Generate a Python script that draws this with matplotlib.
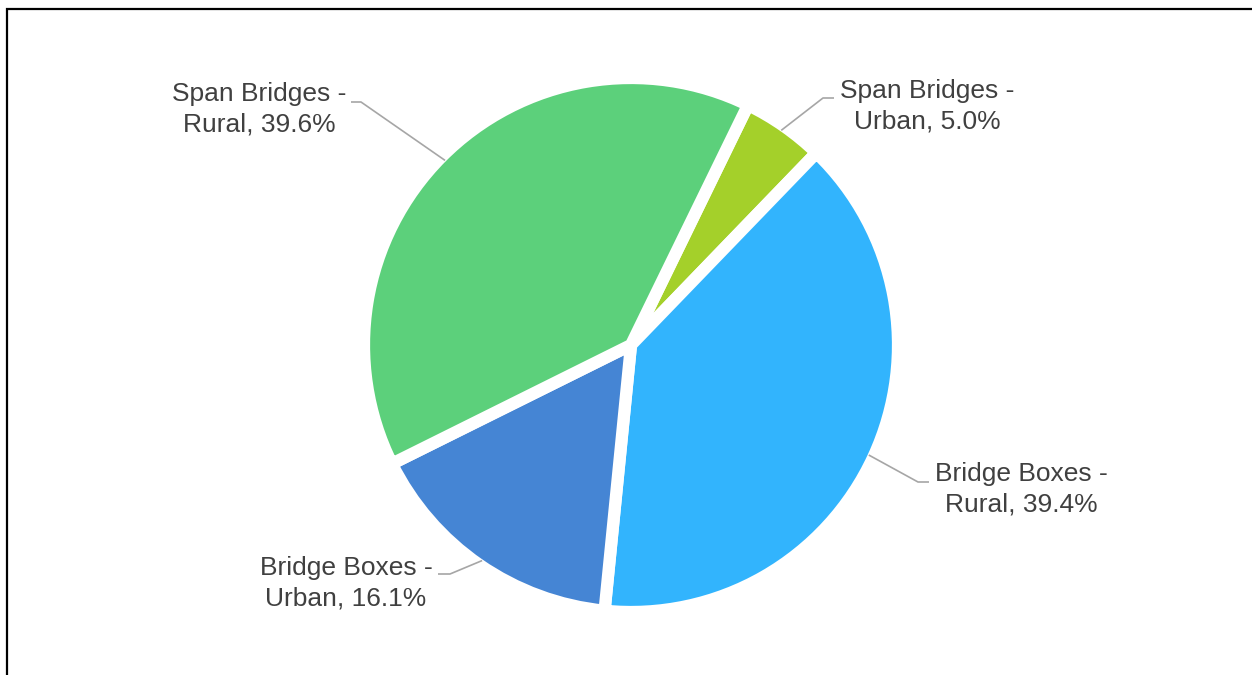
import matplotlib
matplotlib.use("Agg")
import matplotlib.pyplot as plt
import numpy as np

# Share of bridges by type and setting
categories = ["Span Bridges - Urban", "Bridge Boxes - Rural",
              "Bridge Boxes - Urban", "Span Bridges - Rural"]
shares = [5.0, 39.4, 16.1, 39.6]
label_lines = [("Span Bridges -", "Urban, 5.0%"),
               ("Bridge Boxes -", "Rural, 39.4%"),
               ("Bridge Boxes -", "Urban, 16.1%"),
               ("Span Bridges -", "Rural, 39.6%")]
colors = ["#a4d02a", "#32b4fd", "#4585d4", "#5cd07b"]

W, H = 1252, 675
fig = plt.figure(figsize=(W / 100, H / 100), dpi=100)
ax = fig.add_axes([0, 0, 1, 1])


def py(y):
    """Convert a top-down pixel row to the axes' bottom-up coordinate."""
    return H - y


cx, cy, R = 631, py(345), 267
wedges, _ = ax.pie(shares, colors=colors, startangle=64, counterclock=False,
                   center=(cx, cy), radius=R,
                   wedgeprops=dict(edgecolor="white", linewidth=8.8))

ax.set_xlim(0, W)
ax.set_ylim(0, H)
ax.set_aspect("equal")
ax.axis("off")

# label text centres and connector elbows (pixel positions, top-down)
text_pos = [(927, 106), (1021, 489), (346, 583), (259, 109)]
elbows = [((823, 98), (834, 98)),
          ((918, 482), (929, 482)),
          ((450, 574), (438, 574)),
          ((361, 102), (351, 102))]

r_edge = R - 5
for w, lines, (tx, ty), (e1, e2) in zip(wedges, label_lines, text_pos, elbows):
    mid = np.deg2rad((w.theta1 + w.theta2) / 2)
    sx = cx + r_edge * np.cos(mid)
    sy = cy + r_edge * np.sin(mid)
    ax.plot([sx, e1[0], e2[0]], [sy, py(e1[1]), py(e2[1])],
            color="#a6a6a6", lw=1.2, solid_capstyle="butt", zorder=1)
    ax.text(tx, py(ty), "\n".join(lines), ha="center", va="center",
            fontsize=19, family="Liberation Sans", color="#404040",
            linespacing=1.36)

# outer frame (left and top edges)
ax.plot([7, 7, W + 5], [-5, py(9), py(9)], color="black", lw=1.6,
        clip_on=False, solid_joinstyle="miter")

fig.savefig("out.png", dpi=100, facecolor="white")
